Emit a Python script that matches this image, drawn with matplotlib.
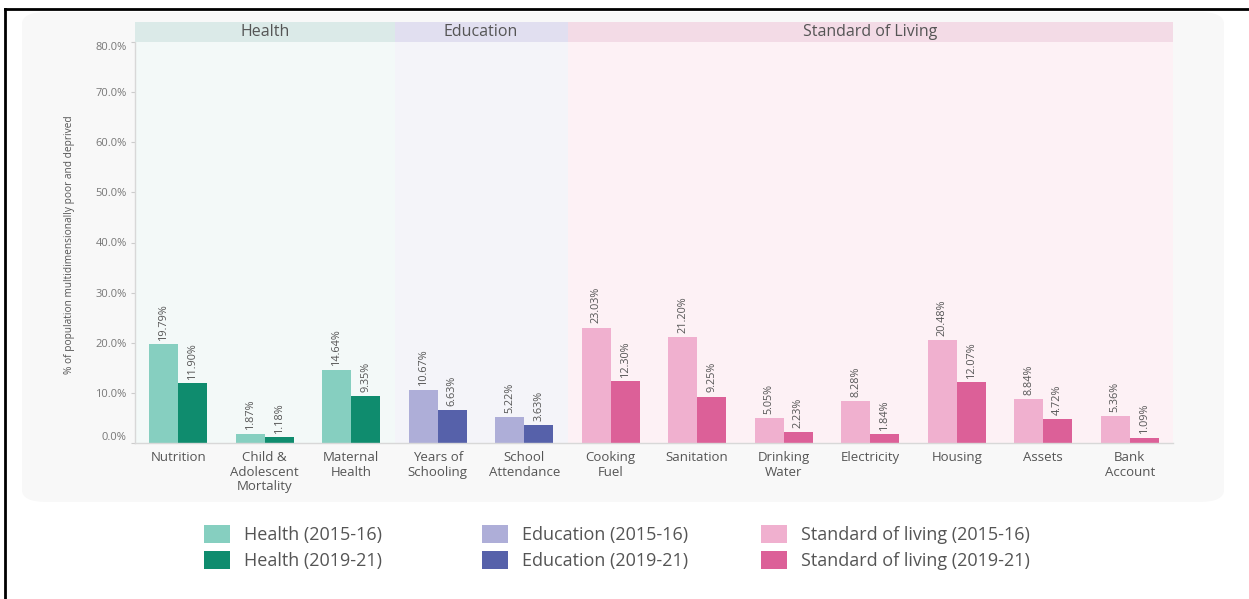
import matplotlib
matplotlib.use("Agg")
import matplotlib.pyplot as plt
from matplotlib.patches import FancyBboxPatch, Patch
from matplotlib.lines import Line2D
import numpy as np

plt.rcParams['font.family'] = ['Open Sans', 'DejaVu Sans']

# ---- data ----
categories = ["Nutrition", "Child &\nAdolescent\nMortality", "Maternal\nHealth",
              "Years of\nSchooling", "School\nAttendance", "Cooking\nFuel",
              "Sanitation", "Drinking\nWater", "Electricity", "Housing",
              "Assets", "Bank\nAccount"]
values_2015 = [19.79, 1.87, 14.64, 10.67, 5.22, 23.03, 21.20, 5.05, 8.28, 20.48, 8.84, 5.36]
values_2019 = [11.90, 1.18, 9.35, 6.63, 3.63, 12.30, 9.25, 2.23, 1.84, 12.07, 4.72, 1.09]
labels_2015 = ["19.79%", "1.87%", "14.64%", "10.67%", "5.22%", "23.03%",
               "21.20%", "5.05%", "8.28%", "20.48%", "8.84%", "5.36%"]
labels_2019 = ["11.90%", "1.18%", "9.35%", "6.63%", "3.63%", "12.30%",
               "9.25%", "2.23%", "1.84%", "12.07%", "4.72%", "1.09%"]
dimensions = ["Health", "Education", "Standard of Living"]
dimension_of = [0, 0, 0, 1, 1, 2, 2, 2, 2, 2, 2, 2]
legend_names = ["Health", "Education", "Standard of living"]
periods = ["2015-16", "2019-21"]
y_ticks = [0, 10, 20, 30, 40, 50, 60, 70, 80]

# ---- styling ----
light_cols = ["#86cfc0", "#aeaed8", "#f0b0cf"]
dark_cols = ["#0f8c6e", "#5661aa", "#dc6098"]
band_body = ["#f3f9f8", "#f4f4f9", "#fdf1f5"]
band_head = ["#dbeae8", "#e1dff0", "#f3dbe6"]
text_col = "#555555"

W, H = 1249, 599
fig = plt.figure(figsize=(W / 100, H / 100), dpi=100)
fig.patch.set_facecolor("white")

# rounded light-grey card behind the chart
card = FancyBboxPatch((22 / W, 1 - 502 / H), (1224 - 22) / W, (502 - 12) / H,
                      boxstyle="round,pad=0,rounding_size=0.02",
                      transform=fig.transFigure, facecolor="#f8f8f8",
                      edgecolor="none", zorder=-10)
fig.add_artist(card)

# outer frame lines (top and left)
fig.add_artist(Line2D([5 / W, 1], [1 - 9 / H, 1 - 9 / H], color="black", lw=2,
                      transform=fig.transFigure))
fig.add_artist(Line2D([5 / W, 5 / W], [0, 1 - 9 / H], color="black", lw=2,
                      transform=fig.transFigure))

left, right = 135 / W, 1173 / W
top, bottom = 42 / H, 443 / H
ax = fig.add_axes([left, 1 - bottom, right - left, bottom - top])
hax = fig.add_axes([left, 1 - top, right - left, 20 / H], sharex=ax)

n = len(categories)
x = np.arange(n)
ax.set_xlim(-0.5, n - 0.5)
ax.set_ylim(0, 80)
ax.set_facecolor("none")

# dimension background bands
for d in range(len(dimensions)):
    idx = [i for i, k in enumerate(dimension_of) if k == d]
    lo, hi = min(idx) - 0.5, max(idx) + 0.5
    ax.axvspan(lo, hi, color=band_body[d], zorder=0, lw=0)
    hax.axvspan(lo, hi, color=band_head[d], zorder=0, lw=0)
    hax.text((lo + hi) / 2, 0.5, dimensions[d], ha="center", va="center",
             fontsize=11.5, color=text_col, transform=hax.get_xaxis_transform())
hax.set_ylim(0, 1)
hax.axis("off")

bw = 0.335
for i in range(n):
    d = dimension_of[i]
    ax.bar(x[i] - bw / 2, values_2015[i], bw, color=light_cols[d], zorder=2)
    ax.bar(x[i] + bw / 2, values_2019[i], bw, color=dark_cols[d], zorder=2)
    ax.annotate(labels_2015[i], (x[i] - bw / 2, values_2015[i]),
                xytext=(0, 3), textcoords="offset points", rotation=90,
                ha="center", va="bottom", fontsize=7.8, color=text_col)
    ax.annotate(labels_2019[i], (x[i] + bw / 2, values_2019[i]),
                xytext=(0, 3), textcoords="offset points", rotation=90,
                ha="center", va="bottom", fontsize=7.8, color=text_col)

ax.set_xticks(x)
ax.set_xticklabels(categories, fontsize=9.5, color=text_col, linespacing=1.15)
ax.tick_params(axis="x", length=0, pad=6)
ax.set_yticks(y_ticks)
ax.set_yticklabels([f"{v:.1f}%" for v in y_ticks], fontsize=8, color="#777777")
ax.tick_params(axis="y", length=3, color="#cccccc", pad=3)
tl = ax.get_yticklabels()
tl[0].set_verticalalignment("bottom")
tl[-1].set_verticalalignment("top")
for s in ["top", "right"]:
    ax.spines[s].set_visible(False)
for s in ["left", "bottom"]:
    ax.spines[s].set_color("#d8d8d8")
    ax.spines[s].set_linewidth(1)

fig.text(70 / W, 1 - 245 / H, "% of population multidimensionally poor and deprived",
         rotation=90, ha="center", va="center", fontsize=7.3, color=text_col)

# legends, one per dimension
leg_x = [204, 482, 761]
for d in range(len(legend_names)):
    handles = [Patch(facecolor=light_cols[d], edgecolor="none"),
               Patch(facecolor=dark_cols[d], edgecolor="none")]
    names = [f"{legend_names[d]} ({p})" for p in periods]
    leg = fig.legend(handles, names, loc="upper left",
                     bbox_to_anchor=(leg_x[d] / W, 1 - 525 / H),
                     frameon=False, fontsize=13, handlelength=1.45,
                     handleheight=1.15, handletextpad=0.75, labelspacing=0.4,
                     borderaxespad=0, borderpad=0)
    for t in leg.get_texts():
        t.set_color(text_col)

fig.savefig("out.png", dpi=100, facecolor="white")
